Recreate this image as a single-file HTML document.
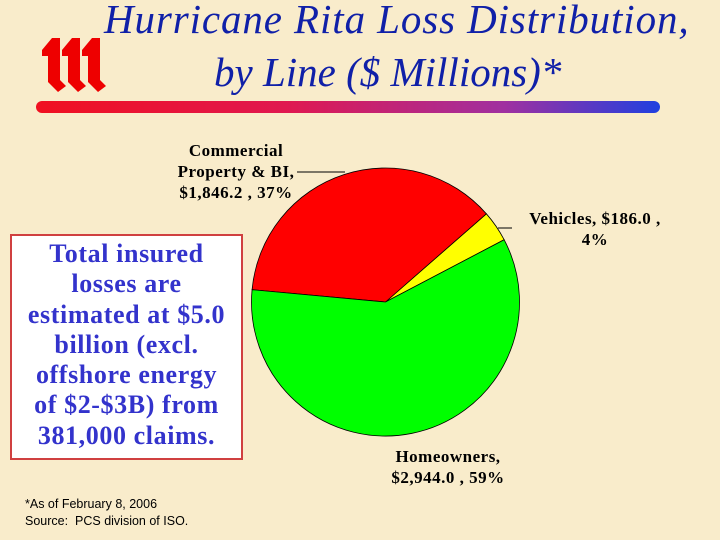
<!DOCTYPE html>
<html><head><meta charset="utf-8"><style>
body{margin:0}
#c{position:relative;width:720px;height:540px;overflow:hidden;background:#f9eccb;font-family:"Liberation Serif",serif}
.t{position:absolute;color:#1020a8;font-style:italic;font-size:41px;white-space:nowrap}
.lbl{position:absolute;font-weight:bold;font-size:17px;letter-spacing:0.5px;color:#000;text-align:center;line-height:21px;white-space:nowrap}
</style></head><body>
<div id="c">
<svg width="720" height="540" style="position:absolute;left:0;top:0">
<g fill="#ee0000">
<path d="M42,50 L52,38 L60,38 L60,80 L66,86 L58,92 L48,82 L48,56 L42,56Z"/>
<path d="M62,50 L72,38 L80,38 L80,80 L86,86 L78,92 L68,82 L68,56 L62,56Z"/>
<path d="M82,50 L92,38 L100,38 L100,80 L106,86 L98,92 L88,82 L88,56 L82,56Z"/>
</g></svg>
<div class="t" style="left:104px;top:-5px;letter-spacing:0.9px">Hurricane Rita Loss Distribution,</div>
<div class="t" style="left:214px;top:48px">by Line ($ Millions)*</div>
<div style="position:absolute;left:36px;top:101px;width:624px;height:12px;border-radius:6px;background:linear-gradient(90deg,#f01020,#e01850 40%,#a030a0 75%,#2040e0)"></div>
<svg id="pie" width="720" height="540" style="position:absolute;left:0;top:0"></svg>
<div class="lbl" style="left:162px;top:140px;width:148px">Commercial<br>Property &amp; BI,<br>$1,846.2 , 37%</div>
<div class="lbl" style="left:509px;top:208px;width:172px">Vehicles, $186.0 ,<br>4%</div>
<div class="lbl" style="left:374px;top:446px;width:148px">Homeowners,<br>$2,944.0 , 59%</div>
<div style="position:absolute;left:10px;top:234px;width:229px;height:219px;background:#fff;border:2px solid #d04040;color:#3333cc;font-weight:bold;font-size:26px;letter-spacing:0.6px;line-height:30.3px;text-align:center;padding-top:3px;white-space:nowrap">Total insured<br>losses are<br>estimated at $5.0<br>billion (excl.<br>offshore energy<br>of $2-$3B) from<br>381,000 claims.</div>
<div style="position:absolute;left:25px;top:496px;font-family:'Liberation Sans',sans-serif;font-size:12.5px;line-height:17px;color:#000">*As of February 8, 2006<br>Source:&nbsp; PCS division of ISO.</div>
</div>
<script>
const categories=["Vehicles","Commercial Property & BI","Homeowners"];
const values=[186.0,1846.2,2944.0];
const colors=["#ffff00","#ff0000","#00ff00"];
const svg=document.getElementById('pie');
const NS='http://www.w3.org/2000/svg';
const cx=385.5,cy=302,r=134,start=27.7;
const total=values.reduce((a,b)=>a+b,0);
let a=start;
values.forEach((v,i)=>{
  const a2=a+v/total*360;
  const p=d=>[cx+r*Math.cos(d*Math.PI/180),cy-r*Math.sin(d*Math.PI/180)];
  const [x1,y1]=p(a),[x2,y2]=p(a2);
  const path=document.createElementNS(NS,'path');
  path.setAttribute('d',`M${cx},${cy}L${x1},${y1}A${r},${r} 0 ${a2-a>180?1:0} 0 ${x2},${y2}Z`);
  path.setAttribute('fill',colors[i]);
  path.setAttribute('stroke','#000');
  path.setAttribute('stroke-width','0.8');
  
  
  svg.appendChild(path);
  a=a2;
});
[[297,172,345,172],[498,228,512,228]].forEach(l=>{
  const ln=document.createElementNS(NS,'line');
  ln.setAttribute('x1',l[0]);ln.setAttribute('y1',l[1]);ln.setAttribute('x2',l[2]);ln.setAttribute('y2',l[3]);
  ln.setAttribute('stroke','#000');
  
  
  svg.appendChild(ln);
});
</script>
</body></html>
